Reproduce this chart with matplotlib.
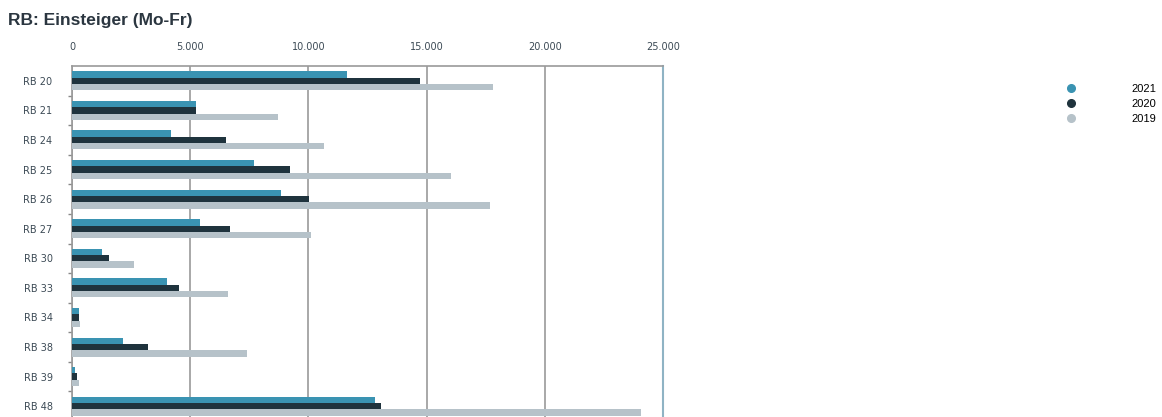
import numpy as np
import matplotlib.pyplot as plt
from matplotlib.lines import Line2D
from matplotlib.ticker import FuncFormatter, FixedLocator

lines = ["RB 20", "RB 21", "RB 24", "RB 25", "RB 26", "RB 27",
         "RB 30", "RB 33", "RB 34", "RB 38", "RB 39", "RB 48"]
years = ["2021", "2020", "2019"]
v2021 = [11620, 5230, 4170, 7700, 8840, 5430, 1260, 4000, 280, 2150, 130, 12830]
v2020 = [14700, 5230, 6500, 9220, 10040, 6700, 1580, 4530, 280, 3200, 230, 13060]
v2019 = [17800, 8700, 10670, 16020, 17680, 10100, 2640, 6580, 340, 7400, 280, 24060]
colors = ["#3a93b2", "#1f333d", "#b6c2c9"]

fig = plt.figure(figsize=(11.62, 4.17), dpi=100)
ax = fig.add_axes([72 / 1162, -4 / 417, 591 / 1162, 355 / 417])

y = np.arange(len(lines))
h = 0.215
for k, (vals, c) in enumerate(zip([v2021, v2020, v2019], colors)):
    ax.barh(y + (k - 1) * h, vals, height=h, color=c, zorder=3)

ax.set_xlim(0, 25000)
ax.set_ylim(len(lines) - 0.5, -0.5)
ax.set_xticks([0, 5000, 10000, 15000, 20000, 25000])
ax.xaxis.set_major_formatter(FuncFormatter(lambda v, p: f"{v:,.0f}".replace(",", ".")))
ax.xaxis.tick_top()
ax.tick_params(axis="x", length=0, pad=10, labelsize=7, labelcolor="#3c4a55")
ax.grid(axis="x", color="#9a9a9a", lw=1.2, zorder=1)

ax.set_yticks(y)
ax.set_yticklabels(lines)
ax.tick_params(axis="y", which="major", length=0, pad=14, labelsize=7, labelcolor="#3c4a55")
ax.yaxis.set_minor_locator(FixedLocator(y[:-1] + 0.5))
ax.tick_params(axis="y", which="minor", length=3, color="#888888", width=1)

for s in ["top", "left"]:
    ax.spines[s].set_color("#9a9a9a")
    ax.spines[s].set_linewidth(1.2)
ax.spines["right"].set_color("#8fb3c4")
ax.spines["right"].set_linewidth(1.5)
ax.spines["bottom"].set_visible(False)

fig.text(8 / 1162, 1 - 21 / 417, "RB: Einsteiger (Mo-Fr)", fontsize=12.5,
         fontweight="bold", family="Liberation Sans", color="#2b3640", va="center")

handles = [Line2D([], [], ls="", marker="o", ms=5.5, color=c) for c in colors]
fig.legend(handles, years, loc="upper left", bbox_to_anchor=(1055 / 1162, 1 - 74 / 417),
           frameon=False, prop={"family": "Liberation Sans", "size": 8},
           handletextpad=5.0, labelspacing=0.45, handlelength=1)

fig.savefig("out.png", dpi=100)
